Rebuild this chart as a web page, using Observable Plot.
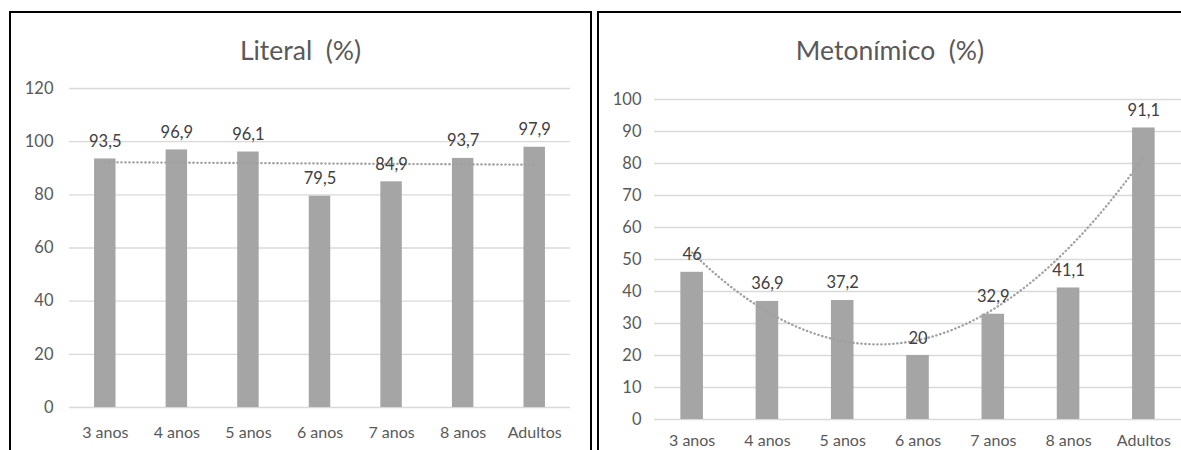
<!DOCTYPE html>
<html>
<head>
<meta charset="utf-8">
<script src="https://cdn.jsdelivr.net/npm/d3@7"></script>
<script src="https://cdn.jsdelivr.net/npm/@observablehq/plot@0.6"></script>
<style>
  body { margin: 0; background: #fff; }
  #page { position: relative; width: 1181px; height: 450px; overflow: hidden; background: #fff; font-family: Lato, sans-serif; }
  .panel { position: absolute; top: 11px; height: 470px; border: 2px solid #000; box-sizing: border-box; background: #fff; }
  .title { height: 62px; box-sizing: border-box; padding-top: 21px; text-align: center; font-size: 26.5px; line-height: 32px; color: #595959; white-space: pre; }
  .panel svg { display: block; }
</style>
</head>
<body>
<div id="page">
  <div class="panel" id="left" style="left:9px;width:583px"><div class="title">Literal  (%)</div></div>
  <div class="panel" id="right" style="left:597px;width:586px"><div class="title">Metonímico  (%)</div></div>
</div>
<script>
// Age groups on the horizontal axis
const categories = ["3 anos", "4 anos", "5 anos", "6 anos", "7 anos", "8 anos", "Adultos"];

// Percentages per age group
const literal = [93.5, 96.9, 96.1, 79.5, 84.9, 93.7, 97.9];
const metonimico = [46, 36.9, 37.2, 20, 32.9, 41.1, 91.1];

// Y-axis tick values of each panel
const literalTicks = [0, 20, 40, 60, 80, 100, 120];
const metonimicoTicks = [0, 10, 20, 30, 40, 50, 60, 70, 80, 90, 100];

// Least-squares polynomial fit (normal equations + Gaussian elimination)
function polyfit(xs, ys, degree) {
  const n = degree + 1;
  const A = Array.from({length: n}, () => new Array(n + 1).fill(0));
  xs.forEach((x, k) => {
    for (let r = 0; r < n; r++) {
      for (let c = 0; c < n; c++) A[r][c] += Math.pow(x, r + c);
      A[r][n] += ys[k] * Math.pow(x, r);
    }
  });
  for (let p = 0; p < n; p++) {
    let best = p;
    for (let r = p + 1; r < n; r++) if (Math.abs(A[r][p]) > Math.abs(A[best][p])) best = r;
    [A[p], A[best]] = [A[best], A[p]];
    for (let r = 0; r < n; r++) {
      if (r === p) continue;
      const f = A[r][p] / A[p][p];
      for (let c = p; c <= n; c++) A[r][c] -= f * A[p][c];
    }
  }
  return A.map((row, i) => row[n] / row[i]);
}
const evalPoly = (coef, x) => coef.reduce((s, c, i) => s + c * Math.pow(x, i), 0);

const fmt = v => String(v).replace(".", ",");

function panelChart({values, ticks, yMax, degree, width, marginLeft, marginRight, marginTop, marginBottom, yPad, xPad}) {
  const data = categories.map((c, i) => ({i: i + 1, c, v: values[i]}));
  const coef = polyfit(data.map(d => d.i), values, degree);
  const trend = d3.range(1, 7.0001, 0.05).map(x => ({x, y: evalPoly(coef, x)}));
  return Plot.plot({
    width, height: 375, marginLeft, marginRight, marginTop, marginBottom,
    style: {fontFamily: "Lato, sans-serif", fontSize: "16px", background: "transparent", color: "#595959"},
    x: {domain: [0.5, 7.5], axis: null},
    y: {domain: [0, yMax], axis: null},
    marks: [
      Plot.ruleY(ticks, {stroke: "#d9d9d9", strokeWidth: 1.4}),
      Plot.axisY(ticks, {tickSize: 0, tickPadding: yPad, fill: "#595959", fontSize: 16.5, label: null}),
      Plot.axisX(d3.range(1, 8), {tickSize: 0, tickPadding: xPad, tickFormat: i => categories[i - 1], fill: "#595959", fontSize: 16, label: null}),
      Plot.rectY(data, {x1: d => d.i - 0.15, x2: d => d.i + 0.15, y: "v", fill: "#a5a5a5"}),
      // dotted trendline (least-squares fit of the bar values)
      Plot.line(trend, {x: "x", y: "y", stroke: "#a0a0a0", strokeWidth: 2.3, strokeLinecap: "round", strokeDasharray: "0.4,3.6"}),
      Plot.text(data, {x: "i", y: "v", text: d => fmt(d.v), dy: -12, lineAnchor: "bottom", fill: "#404040", fontSize: 16.5})
    ]
  });
}

document.getElementById("left").appendChild(panelChart({
  values: literal, ticks: literalTicks, yMax: 120, degree: 1,
  width: 579, marginLeft: 58, marginRight: 20, marginTop: 13, marginBottom: 43, yPad: 16, xPad: 19
}));

document.getElementById("right").appendChild(panelChart({
  values: metonimico, ticks: metonimicoTicks, yMax: 100, degree: 2,
  width: 582, marginLeft: 55, marginRight: 0, marginTop: 24, marginBottom: 31, yPad: 13, xPad: 15
}));
</script>
</body>
</html>
